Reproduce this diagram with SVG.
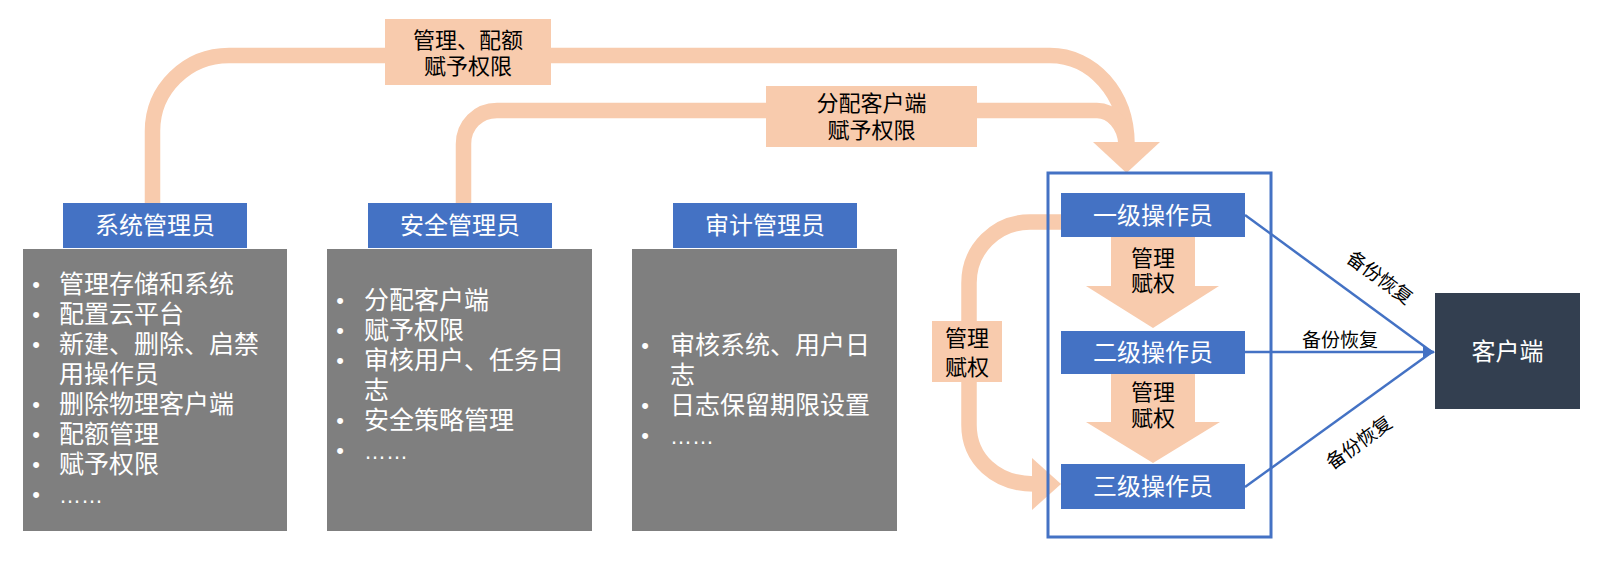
<svg xmlns="http://www.w3.org/2000/svg" width="1600" height="565" viewBox="0 0 1600 565">
<defs>
<style>
.cn{font-family:"Liberation Sans","Noto Sans CJK SC",sans-serif;}
.hdr{fill:#4472C4;}
.hdrt{fill:#FFFFFF;font-size:24px;text-anchor:middle;}
.gray{fill:#7F7F7F;}
.gt{fill:#FFFFFF;font-size:25px;}
.bul{fill:#FFFFFF;font-size:22px;text-anchor:middle;font-family:"Liberation Sans",sans-serif;}
.dots{font-family:"Liberation Sans",sans-serif;font-size:22px;}
.band{fill:none;stroke:#F8CBAD;stroke-width:15.5;}
.peach{fill:#F8CBAD;}
.lbl{fill:#000000;font-size:22px;text-anchor:middle;}
.bl{stroke:#4472C4;stroke-width:2.5;fill:none;}
.blt{fill:#000000;font-size:19px;text-anchor:middle;}
</style>
<marker id="ah" viewBox="0 0 10 10" refX="9" refY="5" markerWidth="5" markerHeight="5" markerUnits="strokeWidth" orient="auto">
<path d="M0,0 L10,5 L0,10 Z" fill="#4472C4"/>
</marker>
</defs>
<rect width="1600" height="565" fill="#FFFFFF"/>
<g id="connectors">
<path class="band" d="M152.5,204 V131 C152.5,89 187,55.5 229,55.5 H1050 C1092,55.5 1127,93 1127,144"/>
<path class="band" d="M463.5,204 V144 C463.5,125 478,110.5 497,110.5 H1097 C1112,110.5 1125,125 1126,144"/>
<polygon class="peach" points="1093,142 1160,142 1126.5,173"/>
<path class="band" d="M1062,222 H1030 C996,222 969,249 969,283 V425 C969,459 996,484 1034,484"/>
<polygon class="peach" points="1032,458 1061,484 1032,510"/>
<g id="label-quota">
<rect class="peach" x="385" y="19" width="166" height="66"/>
<text class="cn lbl"><tspan x="468" y="48">管理、配额</tspan><tspan x="468" y="74">赋予权限</tspan></text>
</g>
<g id="label-assign">
<rect class="peach" x="766" y="86" width="211" height="61"/>
<text class="cn lbl"><tspan x="871.5" y="111">分配客户端</tspan><tspan x="871.5" y="138">赋予权限</tspan></text>
</g>
<g id="label-left">
<rect class="peach" x="932" y="321" width="70" height="61"/>
<text class="cn lbl"><tspan x="967" y="346">管理</tspan><tspan x="967" y="375">赋权</tspan></text>
</g>
<g id="arrow-1-2">
<polygon class="peach" points="1111,237 1195,237 1195,286 1219,286 1153,328 1086,286 1111,286"/>
<text class="cn lbl"><tspan x="1153" y="266">管理</tspan><tspan x="1153" y="291">赋权</tspan></text>
</g>
<g id="arrow-2-3">
<polygon class="peach" points="1111,374 1195,374 1195,422 1220,422 1153,463 1086,422 1111,422"/>
<text class="cn lbl"><tspan x="1153" y="400">管理</tspan><tspan x="1153" y="426">赋权</tspan></text>
</g>
<line class="bl" x1="1245" y1="215" x2="1432" y2="352"/>
<line class="bl" x1="1245" y1="352" x2="1434" y2="352" marker-end="url(#ah)"/>
<line class="bl" x1="1245" y1="487" x2="1432" y2="352"/>
<text class="cn blt" transform="translate(1376,283) rotate(36)">备份恢复</text>
<text class="cn blt" x="1340" y="347">备份恢复</text>
<text class="cn blt" transform="translate(1363,448) rotate(-36)">备份恢复</text>
</g>
<g id="operator-frame">
<rect x="1048" y="173" width="223" height="364" fill="none" stroke="#4472C4" stroke-width="3"/>
</g>
<g id="sysadmin">
<rect class="hdr" x="63" y="203" width="184" height="45"/>
<text class="cn hdrt" x="155" y="234">系统管理员</text>
<rect class="gray" x="23" y="249" width="264" height="282"/>
<text class="bul"><tspan x="36" y="292">•</tspan><tspan x="36" y="322">•</tspan><tspan x="36" y="352">•</tspan><tspan x="36" y="412">•</tspan><tspan x="36" y="442">•</tspan><tspan x="36" y="472">•</tspan><tspan x="36" y="502">•</tspan></text>
<text class="cn gt"><tspan x="59" y="293">管理存储和系统</tspan><tspan x="59" y="323">配置云平台</tspan><tspan x="59" y="353">新建、删除、启禁</tspan><tspan x="59" y="383">用操作员</tspan><tspan x="59" y="413">删除物理客户端</tspan><tspan x="59" y="443">配额管理</tspan><tspan x="59" y="473">赋予权限</tspan><tspan class="dots" x="59" y="503">……</tspan></text>
</g>
<g id="secadmin">
<rect class="hdr" x="368" y="203" width="184" height="45"/>
<text class="cn hdrt" x="460" y="234">安全管理员</text>
<rect class="gray" x="327" y="249" width="265" height="282"/>
<text class="bul"><tspan x="340" y="308">•</tspan><tspan x="340" y="338">•</tspan><tspan x="340" y="368">•</tspan><tspan x="340" y="428">•</tspan><tspan x="340" y="458">•</tspan></text>
<text class="cn gt"><tspan x="364" y="309">分配客户端</tspan><tspan x="364" y="339">赋予权限</tspan><tspan x="364" y="369">审核用户、任务日</tspan><tspan x="364" y="399">志</tspan><tspan x="364" y="429">安全策略管理</tspan><tspan class="dots" x="364" y="459">……</tspan></text>
</g>
<g id="auditadmin">
<rect class="hdr" x="673" y="203" width="184" height="45"/>
<text class="cn hdrt" x="765" y="234">审计管理员</text>
<rect class="gray" x="632" y="249" width="265" height="282"/>
<text class="bul"><tspan x="645" y="353">•</tspan><tspan x="645" y="413">•</tspan><tspan x="645" y="443">•</tspan></text>
<text class="cn gt"><tspan x="670" y="354">审核系统、用户日</tspan><tspan x="670" y="384">志</tspan><tspan x="670" y="414">日志保留期限设置</tspan><tspan class="dots" x="670" y="444">……</tspan></text>
</g>
<g id="op1">
<rect class="hdr" x="1061" y="193" width="184" height="44"/>
<text class="cn hdrt" x="1153" y="224">一级操作员</text>
</g>
<g id="op2">
<rect class="hdr" x="1061" y="331" width="184" height="43"/>
<text class="cn hdrt" x="1153" y="361">二级操作员</text>
</g>
<g id="op3">
<rect class="hdr" x="1061" y="464" width="184" height="45"/>
<text class="cn hdrt" x="1153" y="495">三级操作员</text>
</g>
<g id="client">
<rect x="1435" y="293" width="145" height="116" fill="#333F50"/>
<text class="cn" x="1507.5" y="360" fill="#FFFFFF" font-size="24" text-anchor="middle">客户端</text>
</g>
</svg>
